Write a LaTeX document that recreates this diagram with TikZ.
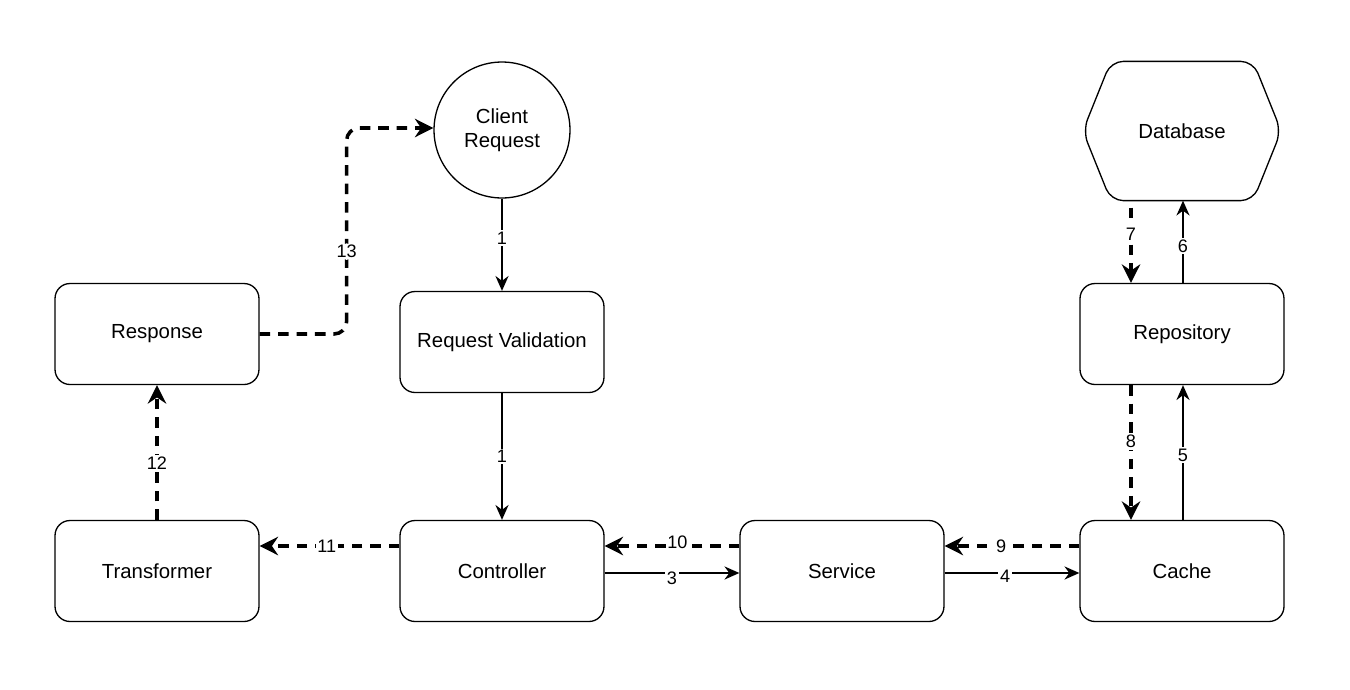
\documentclass[tikz,border=0pt]{standalone}
\usepackage{fontspec}
\setmainfont{Liberation Sans}
\usetikzlibrary{arrows.meta,positioning,calc}

\begin{document}
\begin{tikzpicture}[x=0.02cm,y=-0.02cm,
  lbl/.style={font=\fontsize{11.6}{13.6}\selectfont,line width=0.75pt},
  box/.style={lbl,draw,rounded corners=0.3cm,minimum width=4.08cm,minimum height=2.02cm},
  flow/.style={line width=0.75pt,-{Stealth[length=8.5pt,width=7.5pt,inset=2.8pt]}},
  back/.style={line width=2pt,dash pattern=on 6pt off 4.5pt,-{Stealth[length=10.5pt,width=10.5pt,inset=3.5pt]}},
  num/.style={fill=white,inner sep=1pt,font=\fontsize{10.3}{11}\selectfont}]
\useasboundingbox (0,0) rectangle (1350,690);
% nodes
\node[lbl,draw,circle,minimum size=2.72cm,align=center] (client) at (502,130) {Client\\Request};
\node[box] (reqval) at (502,342) {Request Validation};
\node[box] (ctrl) at (502,571) {Controller};
\node[box] (svc) at (842,571) {Service};
\node[box] (cache) at (1182,571) {Cache};
\node[box] (repo) at (1182,334) {Repository};
\node[lbl,minimum width=3.94cm,minimum height=2.76cm] (db) at (1182,131) {Database};
\draw[lbl,rounded corners=0.25cm] ($(db.north west)+(28,0)$) -- ($(db.north east)+(-28,0)$)
  -- (db.east) -- ($(db.south east)+(-28,0)$) -- ($(db.south west)+(28,0)$) -- (db.west) -- cycle;
\node[box] (resp) at (157,334) {Response};
\node[box] (trans) at (157,571) {Transformer};
% request path
\draw[flow] (client) -- node[num,pos=0.43] {1} (reqval);
\draw[flow] (reqval) -- node[num] {1} (ctrl);
\draw[flow] ($(ctrl.east)+(0,2)$) -- node[num,yshift=-3pt] {3} ($(svc.west)+(0,2)$);
\draw[flow] ($(svc.east)+(0,2)$) -- node[num,pos=0.45,yshift=-2pt] {4} ($(cache.west)+(0,2)$);
\draw[flow] ($(cache.north)+(1,0)$) -- node[num,pos=0.48] {5} ($(repo.south)+(1,0)$);
\draw[flow] ($(repo.north)+(1,0)$) -- node[num,pos=0.45] {6} ($(db.south)+(1,0)$);
% response path
\draw[back] ($(db.south)+(-51,7)$) -- node[num,pos=0.35] {7} ($(repo.north)+(-51,0)$);
\draw[back] ($(repo.south)+(-51,0)$) -- node[num,pos=0.42] {8} ($(cache.north)+(-51,0)$);
\draw[back] ($(cache.west)+(0,-25)$) -- node[num,pos=0.58] {9} ($(svc.east)+(0,-25)$);
\draw[back] ($(svc.west)+(0,-25)$) -- node[num,pos=0.46,yshift=2pt] {10} ($(ctrl.east)+(0,-25)$);
\draw[back] ($(ctrl.west)+(0,-25)$) -- node[num,pos=0.52] {11} ($(trans.east)+(0,-25)$);
\draw[back] (trans) -- node[num,pos=0.42] {12} (resp);
\draw[back,rounded corners=0.25cm] (resp.east) -- ++(87,0) |- node[num,pos=0.2] {13} ($(client.west)+(0,-2)$);
\end{tikzpicture}
\end{document}
